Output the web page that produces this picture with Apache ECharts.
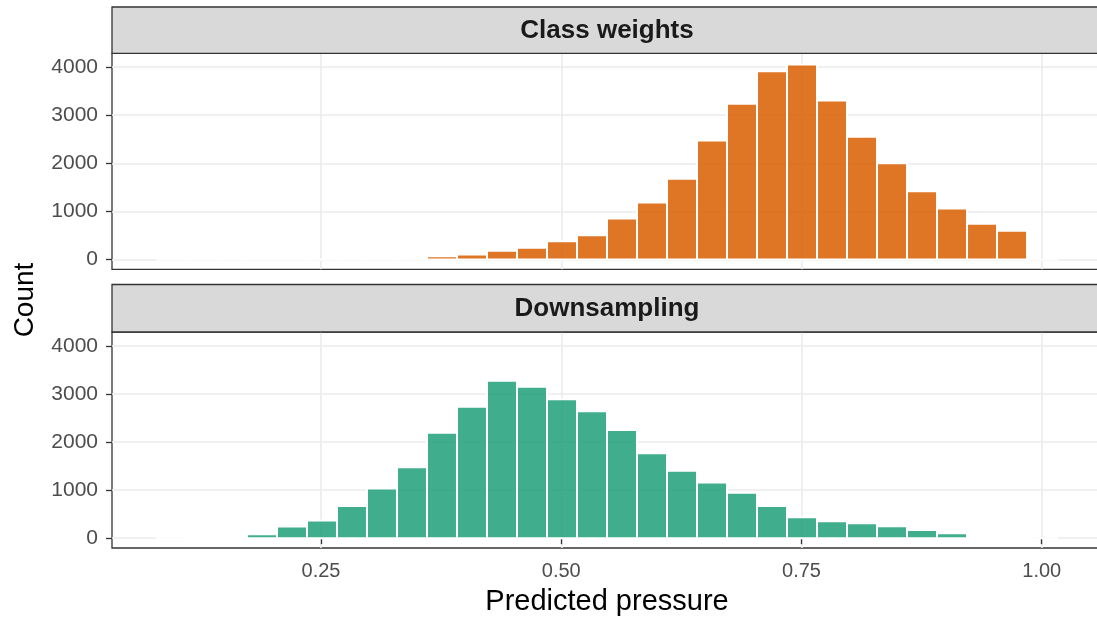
<!DOCTYPE html>
<html>
<head>
<meta charset="utf-8">
<script src="https://cdn.jsdelivr.net/npm/echarts@6/dist/echarts.min.js"></script>
<style>
html,body{margin:0;padding:0;background:#fff;}
#chart{width:1097px;height:621px;}
</style>
</head>
<body>
<div id="chart"></div>
<script>
// ---- data ----
const panels = ['Class weights', 'Downsampling'];
const binStart = 0.0793;     // left edge of first histogram bin
const binWidth = 0.03122;    // histogram bin width
const countsClassWeights = [2, 1, 1, 0, 0, 2, 4, 8, 25, 65, 105, 180, 245, 380, 505, 853, 1186, 1678, 2475, 3238, 3917, 4056, 3307, 2551, 2004, 1421, 1061, 742, 597, 2];
const countsDownsampling = [1, 3, 12, 83, 242, 366, 669, 1034, 1476, 2193, 2731, 3276, 3151, 2890, 2642, 2249, 1765, 1401, 1159, 945, 669, 434, 352, 310, 248, 172, 103, 6, 2, 1];
const xTicks = [0.25, 0.5, 0.75, 1.0];
const xTickLabels = ['0.25', '0.50', '0.75', '1.00'];
const yTicks = [0, 1000, 2000, 3000, 4000];
const xLabel = 'Predicted pressure';
const yLabel = 'Count';

// ---- layout ----
const X_MIN = 0.0325, X_MAX = 1.0627;
const Y_MIN = -204, Y_MAX = 4288;
const GRID_LEFT = 112, GRID_WIDTH = 990;
const grids = [
  {top: 53.3, height: 216, stripTop: 7, stripH: 46.3},
  {top: 332, height: 216, stripTop: 284.5, stripH: 47.5}
];
const colors = ['rgba(217,95,2,0.86)', 'rgba(27,158,119,0.84)'];
const FONT = '"Liberation Sans", Arial, Helvetica, sans-serif';

function toBins(counts) {
  return counts.map((c, k) => [binStart + k * binWidth, binStart + (k + 1) * binWidth, c]);
}

const option = {
  animation: false,
  backgroundColor: '#fff',
  grid: grids.map(g => ({
    left: GRID_LEFT, right: 1097 - GRID_LEFT - GRID_WIDTH, top: g.top, height: g.height,
    outerBoundsMode: 'none',
    show: true, backgroundColor: '#fff', borderColor: '#333333', borderWidth: 1.3,
    containLabel: false
  })),
  xAxis: grids.map((g, i) => ({
    type: 'value', gridIndex: i, min: X_MIN, max: X_MAX,
    axisLine: {show: false},
    axisTick: {show: i === 1, customValues: xTicks, length: 6, lineStyle: {color: '#333333', width: 1.3}},
    axisLabel: {show: i === 1, customValues: xTicks, margin: 13,
      formatter: v => xTickLabels[xTicks.indexOf(+(+v).toFixed(2))] || '',
      color: '#4D4D4D', fontSize: 20, fontFamily: FONT},
    splitLine: {show: true, lineStyle: {color: '#EBEBEB', width: 1.6}}
  })),
  yAxis: grids.map((g, i) => ({
    type: 'value', gridIndex: i, min: Y_MIN, max: Y_MAX,
    axisLine: {show: false},
    axisTick: {show: true, customValues: yTicks, length: 6, lineStyle: {color: '#333333', width: 1.3}},
    axisLabel: {show: true, customValues: yTicks, margin: 14,
      formatter: v => String(Math.round(v)),
      color: '#4D4D4D', fontSize: 21, fontFamily: FONT},
    splitLine: {show: true, lineStyle: {color: '#EBEBEB', width: 1.6}}
  })),
  series: [countsClassWeights, countsDownsampling].map((counts, i) => ({
    type: 'custom',
    xAxisIndex: i, yAxisIndex: i,
    data: toBins(counts),
    renderItem: function (params, api) {
      const p0 = api.coord([api.value(0), api.value(2)]);
      const p1 = api.coord([api.value(1), 0]);
      return {
        type: 'rect',
        shape: {x: p0[0], y: p0[1], width: p1[0] - p0[0], height: p1[1] - p0[1]},
        style: {fill: colors[i], stroke: '#ffffff', lineWidth: 2}
      };
    }
  })),
  graphic: [
    ...grids.map((g, i) => ({
      type: 'rect', silent: true, z: 10,
      shape: {x: GRID_LEFT, y: g.stripTop, width: GRID_WIDTH, height: g.stripH},
      style: {fill: '#D9D9D9', stroke: '#333333', lineWidth: 1.3}
    })),
    ...grids.map((g, i) => ({
      type: 'text', silent: true, z: 11,
      x: GRID_LEFT + GRID_WIDTH / 2, y: g.stripTop + g.stripH / 2 + 1,
      style: {text: panels[i], fill: '#1A1A1A', font: 'bold 26px ' + FONT, align: 'center', verticalAlign: 'middle'}
    })),
    {
      type: 'text', silent: true, z: 11,
      x: GRID_LEFT + GRID_WIDTH / 2, y: 602,
      style: {text: xLabel, fill: '#000', font: '29px ' + FONT, align: 'center', verticalAlign: 'middle'}
    },
    {
      type: 'text', silent: true, z: 11,
      x: 25, y: 300, rotation: Math.PI / 2,
      style: {text: yLabel, fill: '#000', font: '28px ' + FONT, align: 'center', verticalAlign: 'middle'}
    }
  ]
};

const chart = echarts.init(document.getElementById('chart'), null, {renderer: 'canvas'});
chart.setOption(option);
</script>
</body>
</html>
